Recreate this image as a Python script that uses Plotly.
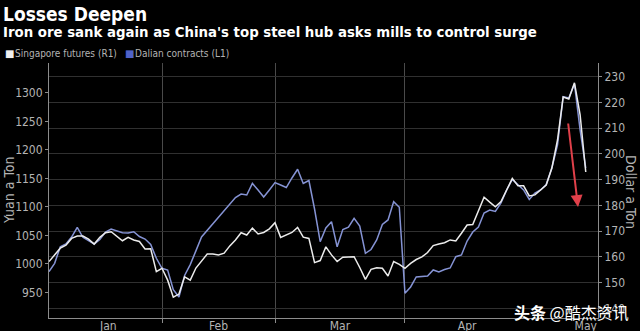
import plotly.graph_objects as go

dates = [
    "2021-01-04", "2021-01-05", "2021-01-06", "2021-01-07", "2021-01-08",
    "2021-01-11", "2021-01-12", "2021-01-13", "2021-01-14", "2021-01-15",
    "2021-01-18", "2021-01-19", "2021-01-20", "2021-01-21", "2021-01-22",
    "2021-01-25", "2021-01-26", "2021-01-27", "2021-01-28", "2021-01-29",
    "2021-02-01", "2021-02-02", "2021-02-03", "2021-02-04", "2021-02-05",
    "2021-02-08", "2021-02-09", "2021-02-10", "2021-02-11", "2021-02-12",
    "2021-02-15", "2021-02-16", "2021-02-17", "2021-02-18", "2021-02-19",
    "2021-02-22", "2021-02-23", "2021-02-24", "2021-02-25", "2021-02-26",
    "2021-03-01", "2021-03-02", "2021-03-03", "2021-03-04", "2021-03-05",
    "2021-03-08", "2021-03-09", "2021-03-10", "2021-03-11", "2021-03-12",
    "2021-03-15", "2021-03-16", "2021-03-17", "2021-03-18", "2021-03-19",
    "2021-03-22", "2021-03-23", "2021-03-24", "2021-03-25", "2021-03-26",
    "2021-03-29", "2021-03-30", "2021-03-31",
    "2021-04-01", "2021-04-02", "2021-04-05", "2021-04-06", "2021-04-07",
    "2021-04-08", "2021-04-09", "2021-04-12", "2021-04-13", "2021-04-14",
    "2021-04-15", "2021-04-16", "2021-04-19", "2021-04-20", "2021-04-21",
    "2021-04-22", "2021-04-23", "2021-04-26", "2021-04-27", "2021-04-28",
    "2021-04-29", "2021-04-30",
    "2021-05-03", "2021-05-04", "2021-05-05", "2021-05-06", "2021-05-07",
    "2021-05-10", "2021-05-11", "2021-05-12", "2021-05-13", "2021-05-14",
    "2021-05-17",
]

singapore_usd = [
    158.2, 160.8, 163.4, 164.6, 167.2, 168.1, 168.1, 166.9, 165.0, 167.6,
    169.4, 169.8, 168.1, 166.3, 167.6, 166.6, 166.0, 163.1, 163.2, 154.3,
    155.6, 151.0, 144.4, 145.6, 152.3, 151.0, 155.7, 158.4, 161.1, 161.1,
    160.8, 161.5, 164.3, 166.6, 169.4, 168.5, 171.2, 168.9, 169.5, 170.9,
    173.3, 167.6, 168.5, 169.5, 171.5, 167.7, 167.2, 157.8, 158.6, 163.9,
    160.8, 158.2, 159.9, 160.0, 160.1, 155.9, 151.3, 155.2, 155.8, 155.6,
    152.6, 158.2, 157.1, 155.6, 157.5, 159.0, 160.0, 161.7, 164.4, 165.0,
    165.5, 166.6, 166.2, 169.2, 172.4, 172.6, 177.8, 183.2, 181.3, 179.5,
    181.5, 186.0, 190.5, 187.6, 187.6, 183.7, 184.1, 186.0, 187.9, 194.5,
    205.4, 222.1, 221.3, 227.6, 215.2, 193.0,
]

dalian_yuan = [
    986.5, 1001.2, 1030.3, 1035.1, 1047.3, 1064.4, 1046.8, 1040.9, 1035.1, 1043.0,
    1056.1, 1061.4, 1058.7, 1054.9, 1054.4, 1056.6, 1048.2, 1043.8, 1034.2, 1010.0,
    992.5, 989.5, 955.0, 942.1, 980.0, 999.0, 1023.0, 1047.3, None, None,
    None, None, None, 1116.6, 1122.7, 1121.0, 1141.2, 1129.8, 1117.5, 1129.8,
    1142.6, 1138.5, 1134.1, 1150.8, 1166.1, 1141.2, 1146.4, 1096.4, 1039.1, 1063.1,
    1074.2, 1030.3, 1060.5, 1064.4, 1080.1, 1066.6, 1018.8, 1025.4, 1042.1, 1069.3,
    1077.2, 1109.2, 1099.4, 948.6, 959.7, 977.2, 977.7, 979.0, 989.5, 986.0,
    990.4, 993.0, 1012.8, 1015.8, 1040.3, 1056.1, 1064.9, 1089.4, 1094.7, 1092.1,
    1107.0, 1129.8, 1148.2, 1138.5, 1129.8, 1113.1, 1124.5, 1129.8, 1139.4, 1168.3,
    1208.7, 1293.4, 1291.1, 1315.6, 1235.0, 1168.3,
]

month_labels = ["Jan", "Feb", "Mar", "Apr", "May"]
month_label_pos = ["2021-01-18 12:00", "2021-02-15", "2021-03-16 12:00", "2021-04-16", "2021-05-17"]
month_starts = ["2021-02-01", "2021-03-01", "2021-04-01", "2021-05-01"]
yuan_ticks = [950, 1000, 1050, 1100, 1150, 1200, 1250, 1300]
usd_ticks = [140, 150, 160, 170, 180, 190, 200, 210, 220, 230]

FONT = "DejaVu Sans Condensed, Roboto, sans-serif"
GRAY = "#b4b4b4"
WHITE_LINE = "#ececec"
BLUE_LINE = "#8593d4"

# plot-area geometry in pixels (for placing text around the plot)
L, R, T, B = 49, 598, 63, 318
W, H = R - L, B - T


def px(xp):
    return (xp - L) / W


def py(yp):
    return (B - yp) / H


fig = go.Figure()
fig.add_trace(go.Scatter(
    x=dates, y=dalian_yuan, mode="lines", yaxis="y", connectgaps=True,
    line=dict(color=BLUE_LINE, width=1.5), showlegend=False, name="Dalian contracts (L1)",
))
fig.add_trace(go.Scatter(
    x=dates, y=singapore_usd, mode="lines", yaxis="y2",
    line=dict(color=WHITE_LINE, width=1.5), showlegend=False, name="Singapore futures (R1)",
))

fig.update_layout(
    width=640, height=331,
    paper_bgcolor="black", plot_bgcolor="black",
    margin=dict(l=L, r=640 - R, t=T, b=331 - B, autoexpand=False),
    font=dict(family=FONT, color=GRAY, size=12),
    xaxis=dict(
        type="date", automargin=False,
        rangebreaks=[dict(bounds=["sat", "mon"])],
        range=["2021-01-04", "2021-05-19 04:00"],
        tickmode="array", tickvals=month_label_pos, ticktext=month_labels,
        ticks="", showgrid=False, zeroline=False, ticklabelstandoff=-3,
        showline=True, linecolor="#8c8c8c", linewidth=1,
        tickfont=dict(size=12, color=GRAY, family=FONT),
        minor=dict(tickmode="array", tickvals=month_starts, showgrid=True,
                   gridcolor="#4a4a4a", gridwidth=1, ticks="outside", ticklen=4,
                   tickcolor="#8c8c8c"),
    ),
    yaxis=dict(
        range=[905.3, 1352.4], automargin=False,
        tickmode="array", tickvals=yuan_ticks,
        ticks="outside", ticklen=3, tickcolor="#8c8c8c",
        showgrid=False, zeroline=False,
        showline=True, linecolor="#8c8c8c", linewidth=1,
        tickfont=dict(size=12, color=GRAY, family=FONT),
    ),
    yaxis2=dict(
        range=[136.3, 235.3], overlaying="y", side="right", automargin=False,
        tickmode="array", tickvals=usd_ticks,
        ticks="outside", ticklen=3, tickcolor="#8c8c8c",
        showgrid=True, gridcolor="#303030", gridwidth=1, zeroline=False,
        showline=True, linecolor="#8c8c8c", linewidth=1,
        tickfont=dict(size=12, color=GRAY, family=FONT),
    ),
)

annotations = [
    dict(text="<b>Losses Deepen</b>", x=px(1), y=py(14), xref="paper", yref="paper",
         xanchor="left", yanchor="middle", showarrow=False,
         font=dict(size=19, color="white", family=FONT)),
    dict(text="<b>Iron ore sank again as China's top steel hub asks mills to control surge</b>",
         x=px(1), y=py(32), xref="paper", yref="paper",
         xanchor="left", yanchor="middle", showarrow=False,
         font=dict(size=14.8, color="white", family=FONT)),
    dict(text="■", x=px(3), y=py(54), xref="paper", yref="paper",
         xanchor="left", yanchor="middle", showarrow=False,
         font=dict(size=10, color="#f0f0f0", family="DejaVu Sans")),
    dict(text="Singapore futures (R1)", x=px(13), y=py(54), xref="paper", yref="paper",
         xanchor="left", yanchor="middle", showarrow=False,
         font=dict(size=10, color=GRAY, family=FONT)),
    dict(text="■", x=px(123), y=py(54), xref="paper", yref="paper",
         xanchor="left", yanchor="middle", showarrow=False,
         font=dict(size=10, color="#4f62c8", family="DejaVu Sans")),
    dict(text="Dalian contracts (L1)", x=px(133), y=py(54), xref="paper", yref="paper",
         xanchor="left", yanchor="middle", showarrow=False,
         font=dict(size=10, color=GRAY, family=FONT)),
    dict(text="Yuan a Ton", x=px(9), y=py(190), xref="paper", yref="paper",
         xanchor="center", yanchor="middle", showarrow=False, textangle=-90,
         font=dict(size=14, color=GRAY, family=FONT)),
    dict(text="Dollar a Ton", x=px(631), y=py(192), xref="paper", yref="paper",
         xanchor="center", yanchor="middle", showarrow=False, textangle=90,
         font=dict(size=14, color=GRAY, family=FONT)),
    dict(text="", x=px(578), y=py(207), xref="paper", yref="paper",
         ax=-10, ay=-85, showarrow=True, arrowhead=2, arrowsize=1.2, arrowwidth=2,
         arrowcolor="#e0404a"),
    dict(text="<b>头条</b> @酷杰资讯", x=px(571), y=py(312), xref="paper", yref="paper",
         xanchor="center", yanchor="middle", showarrow=False,
         font=dict(size=16, color="white", family="Noto Sans CJK SC")),
]
fig.update_layout(annotations=annotations)

fig.write_html("out.html")
